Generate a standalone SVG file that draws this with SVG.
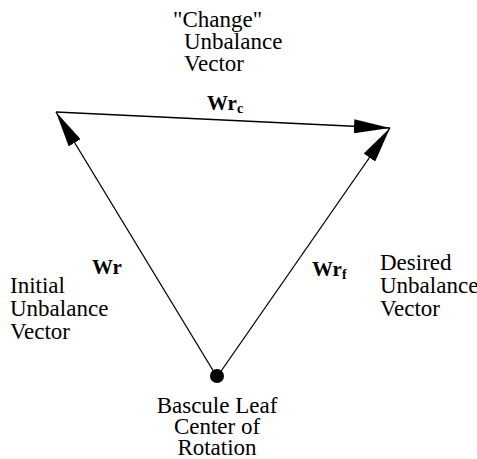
<svg xmlns="http://www.w3.org/2000/svg" width="477" height="459" viewBox="0 0 477 459">
  <style>
    text { font-family: 'Liberation Serif', 'DejaVu Serif', serif; fill: #000; }
    .lbl { font-size: 23px; }
    .vec { font-size: 21px; font-weight: bold; }
    .sub { font-size: 14px; }
    .edge { stroke: #000; stroke-width: 1.3; fill: none; }
  </style>
  <defs>
    <marker id="head" viewBox="0 0 36 14" refX="36" refY="7" markerWidth="36" markerHeight="14" markerUnits="userSpaceOnUse" orient="auto">
      <path d="M0,0 L36,7 L0,14 Z" fill="#000"/>
    </marker>
  </defs>

  <g id="connectors">
    <line class="edge" x1="217" y1="377" x2="56" y2="112" marker-end="url(#head)"/>
    <line class="edge" x1="56" y1="112" x2="390" y2="128" marker-end="url(#head)"/>
    <line class="edge" x1="217" y1="377" x2="390" y2="128" marker-end="url(#head)"/>
  </g>

  <g id="change-vector">
    <text class="lbl" x="173" y="27">"Change"</text>
    <text class="lbl" x="184" y="49">Unbalance</text>
    <text class="lbl" x="184" y="71">Vector</text>
    <text class="vec" x="207" y="110">Wr<tspan class="sub" dy="3">c</tspan></text>
  </g>

  <g id="initial-vector">
    <text class="vec" x="92" y="274">Wr</text>
    <text class="lbl" x="10" y="293">Initial</text>
    <text class="lbl" x="10" y="316">Unbalance</text>
    <text class="lbl" x="10" y="339">Vector</text>
  </g>

  <g id="desired-vector">
    <text class="vec" x="312" y="276">Wr<tspan class="sub" dy="3">f</tspan></text>
    <text class="lbl" x="380" y="270">Desired</text>
    <text class="lbl" x="380" y="293">Unbalance</text>
    <text class="lbl" x="380" y="316">Vector</text>
  </g>

  <g id="center-of-rotation">
    <circle cx="217" cy="376" r="7" fill="#000"/>
    <text class="lbl" x="217" y="413" text-anchor="middle">Bascule Leaf</text>
    <text class="lbl" x="217" y="434" text-anchor="middle">Center of</text>
    <text class="lbl" x="217" y="455" text-anchor="middle">Rotation</text>
  </g>
</svg>
